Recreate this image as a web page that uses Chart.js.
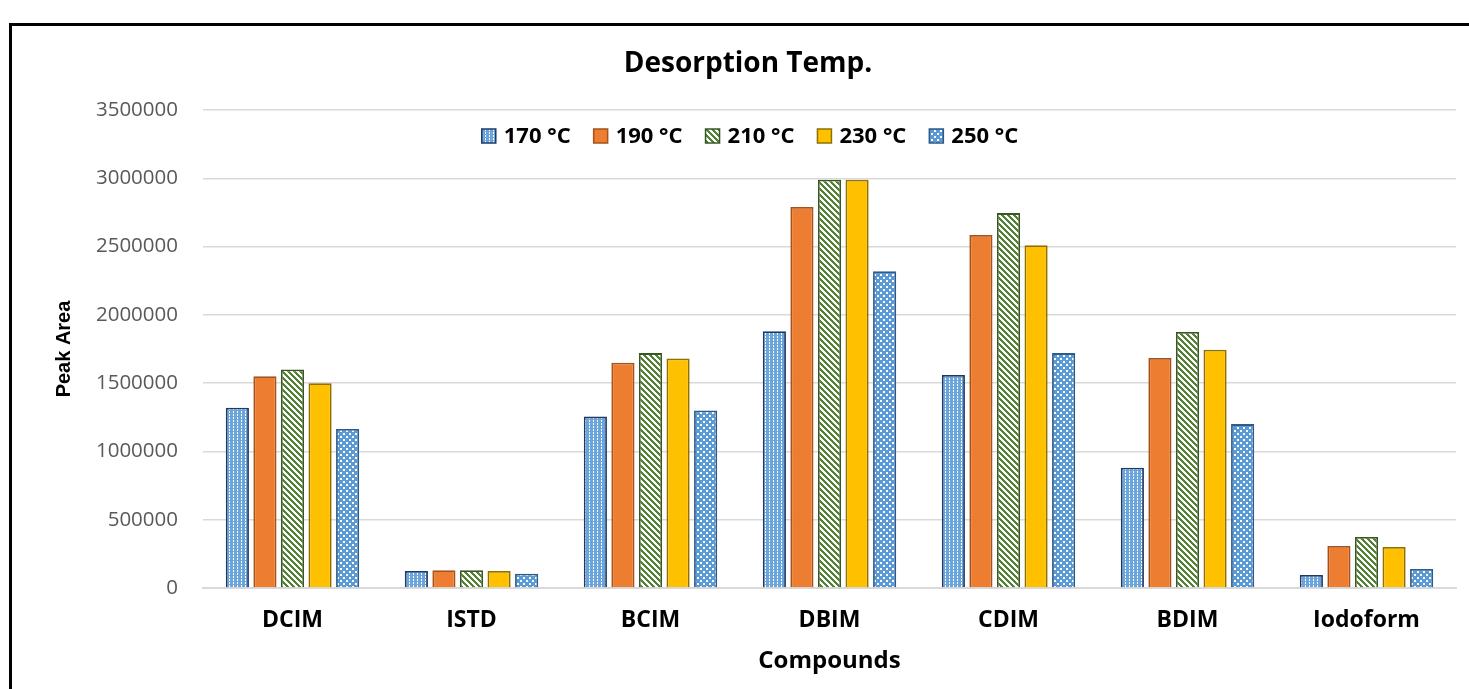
<!DOCTYPE html>
<html>
<head>
<meta charset="utf-8">
<script src="https://cdn.jsdelivr.net/npm/chart.js"></script>
<style>
  html, body { margin: 0; padding: 0; background: #fff; }
  #wrap { position: relative; width: 1469px; height: 689px; }
  #frame { position: absolute; left: 9px; top: 23px; right: -10px; bottom: -10px;
           border-left: 3px solid #000; border-top: 3px solid #000; }
  #chartBox { position: absolute; left: 0; top: 0; width: 1469px; height: 689px; }
</style>
</head>
<body>
<div id="wrap">
  <div id="frame"></div>
  <div id="chartBox"><canvas id="desorption"></canvas></div>
</div>
<script>
const compounds = ['DCIM', 'ISTD', 'BCIM', 'DBIM', 'CDIM', 'BDIM', 'Iodoform'];
const tempLabels = ['170 °C', '190 °C', '210 °C', '230 °C', '250 °C'];

const area170 = [1320000, 125000, 1255000, 1880000, 1560000, 880000, 95000];
const area190 = [1550000, 130000, 1650000, 2790000, 2585000, 1685000, 307000];
const area210 = [1600000, 130000, 1720000, 2990000, 2745000, 1875000, 373000];
const area230 = [1500000, 125000, 1680000, 2990000, 2510000, 1745000, 300000];
const area250 = [1165000, 105000, 1300000, 2320000, 1720000, 1200000, 139000];

const yTicks = [0, 500000, 1000000, 1500000, 2000000, 2500000, 3000000, 3500000];

// small tiles used as bar fills
function tile(w, h, paint) {
  const c = document.createElement('canvas');
  c.width = w; c.height = h;
  const g = c.getContext('2d');
  paint(g, w, h);
  return document.createElement('canvas').getContext('2d').createPattern(c, 'repeat');
}

const fill170 = tile(4, 3, (g, w, h) => {
  g.fillStyle = '#6aa5dc'; g.fillRect(0, 0, w, h);
  g.fillStyle = '#ffffff'; g.fillRect(1, 0, 1, 2);
});
const fill190 = '#ed7d31';
const fill210 = tile(6, 6, (g, w, h) => {
  g.fillStyle = '#ffffff'; g.fillRect(0, 0, w, h);
  g.fillStyle = '#548235';
  for (let x = 0; x < w; x++) {
    for (let y = 0; y < h; y++) {
      if ((((x - y) % 6) + 6) % 6 < 3) g.fillRect(x, y, 1, 1);
    }
  }
});
const fill230 = '#ffc000';
const fill250 = tile(6, 6, (g, w, h) => {
  g.fillStyle = '#5b9bd5'; g.fillRect(0, 0, w, h);
  g.fillStyle = '#ffffff';
  g.fillRect(1, 1, 2, 2);
  g.fillRect(4, 4, 2, 2);
});

const fills = [fill170, fill190, fill210, fill230, fill250];
const edges = ['#203864', '#a5521c', '#385723', '#8f7000', '#2e5a8a'];
const series = [area170, area190, area210, area230, area250];

// legend drawn inside the plot, under the top gridline
const insideLegend = {
  id: 'insideLegend',
  afterDraw(chart) {
    const ctx = chart.ctx;
    ctx.save();
    ctx.font = 'bold 22px "Open Sans"';
    ctx.textBaseline = 'middle';
    const box = 14, gap = 8, space = 23;
    const widths = tempLabels.map(t => box + gap + ctx.measureText(t).width);
    const total = widths.reduce((a, b) => a + b, 0) + space * (widths.length - 1);
    let x = 750 - total / 2;
    const cy = 136;
    tempLabels.forEach((t, i) => {
      ctx.fillStyle = fills[i];
      ctx.fillRect(x, cy - box / 2, box, box);
      ctx.lineWidth = 1.5;
      ctx.strokeStyle = edges[i];
      ctx.strokeRect(x, cy - box / 2, box, box);
      ctx.fillStyle = '#000';
      ctx.fillText(t, x + box + gap, cy + 1);
      x += widths[i] + space;
    });
    ctx.restore();
  }
};

new Chart(document.getElementById('desorption'), {
  type: 'bar',
  data: {
    labels: compounds,
    datasets: series.map((d, i) => ({
      label: tempLabels[i],
      data: d,
      backgroundColor: fills[i],
      borderColor: edges[i],
      borderWidth: 1.8,
      borderSkipped: 'start',
      categoryPercentage: 0.77,
      barPercentage: 0.84
    }))
  },
  options: {
    responsive: true,
    maintainAspectRatio: false,
    animation: false,
    layout: { padding: { left: 40, right: 13, top: 28, bottom: 0 } },
    plugins: {
      legend: { display: false },
      tooltip: { enabled: false },
      title: {
        display: true,
        text: 'Desorption Temp.',
        color: '#000',
        font: { family: '"Open Sans"', size: 28, weight: 'bold' },
        padding: { top: 19.2, bottom: 29.2 }
      }
    },
    scales: {
      x: {
        grid: { display: false, drawTicks: false },
        border: { display: true, color: '#d9d9d9', width: 2 },
        ticks: {
          color: '#000',
          padding: 19,
          font: { family: '"Open Sans"', size: 23, weight: 'bold' }
        },
        title: {
          display: true,
          text: 'Compounds',
          color: '#000',
          font: { family: '"Open Sans"', size: 24, weight: 'bold' },
          padding: { top: 0, bottom: 13.6 }
        },
        afterFit(scale) { scale.height = 101; }
      },
      y: {
        min: 0,
        max: 3500000,
        afterBuildTicks(scale) { scale.ticks = yTicks.map(v => ({ value: v })); },
        grid: { color: '#d9d9d9', lineWidth: 1.5, drawTicks: false },
        border: { display: false },
        ticks: {
          color: '#595959',
          padding: 25,
          font: { family: '"Open Sans"', size: 20.5 },
          callback: v => String(v)
        },
        title: {
          display: true,
          text: 'Peak Area',
          color: '#000',
          font: { family: '"Liberation Sans"', size: 20, weight: 'bold' },
          padding: { top: 12, bottom: 0 }
        },
        afterFit(scale) { scale.width = 163; }
      }
    }
  },
  plugins: [insideLegend]
});
</script>
</body>
</html>
